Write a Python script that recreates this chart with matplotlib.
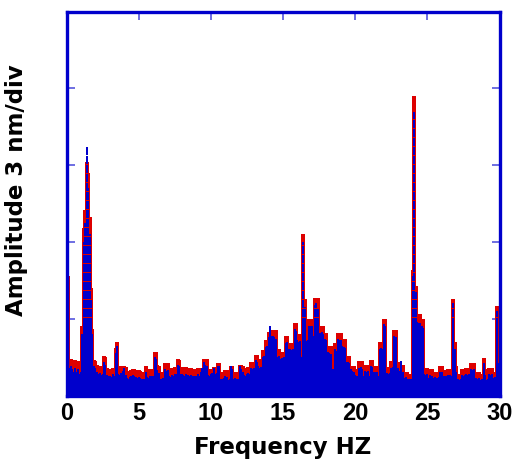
#!/usr/bin/env python3
# -*- coding: utf-8 -*-

import numpy as np
import matplotlib
matplotlib.use("Agg")
import matplotlib.pyplot as plt


# spectrum sampled every 0.1 Hz from 0 to 30 Hz (10 values per row = 1 Hz)
FREQ_STEP = 0.1

red_amp = [
    1.56, 1.56, 0.45, 0.47, 0.46, 0.40, 0.46, 0.39, 0.45, 0.38,   # 0
    0.40, 0.91, 2.18, 2.42, 3.04, 2.90, 2.32, 1.40, 0.87, 0.46,   # 1
    0.45, 0.40, 0.37, 0.36, 0.38, 0.37, 0.52, 0.50, 0.36, 0.34,   # 2
    0.35, 0.33, 0.36, 0.34, 0.62, 0.70, 0.38, 0.37, 0.39, 0.38,   # 3
    0.39, 0.37, 0.31, 0.30, 0.32, 0.33, 0.35, 0.34, 0.33, 0.31,   # 4
    0.33, 0.32, 0.30, 0.29, 0.31, 0.39, 0.33, 0.32, 0.35, 0.34,   # 5
    0.35, 0.57, 0.56, 0.40, 0.38, 0.30, 0.29, 0.31, 0.42, 0.41,   # 6
    0.42, 0.33, 0.32, 0.36, 0.35, 0.37, 0.36, 0.47, 0.46, 0.37,   # 7
    0.37, 0.36, 0.35, 0.37, 0.36, 0.34, 0.36, 0.35, 0.33, 0.33,   # 8
    0.34, 0.36, 0.33, 0.35, 0.36, 0.48, 0.47, 0.48, 0.35, 0.34,   # 9
    0.35, 0.35, 0.37, 0.36, 0.36, 0.42, 0.42, 0.30, 0.29, 0.30,   # 10
    0.33, 0.33, 0.28, 0.29, 0.39, 0.39, 0.30, 0.31, 0.29, 0.30,   # 11
    0.40, 0.40, 0.39, 0.35, 0.34, 0.36, 0.37, 0.36, 0.44, 0.44,   # 12
    0.44, 0.53, 0.53, 0.46, 0.47, 0.45, 0.59, 0.59, 0.72, 0.72,   # 13
    0.83, 0.83, 0.85, 0.85, 0.84, 0.85, 0.59, 0.60, 0.57, 0.57,   # 14
    0.55, 0.55, 0.78, 0.78, 0.68, 0.68, 0.68, 0.68, 0.95, 0.95,   # 15
    0.80, 0.80, 0.80, 0.58, 2.10, 1.26, 0.80, 0.80, 1.00, 1.00,   # 16
    1.00, 0.87, 1.27, 1.27, 1.27, 0.90, 0.90, 0.90, 0.90, 0.82,   # 17
    0.82, 0.64, 0.64, 0.64, 0.42, 0.42, 0.68, 0.68, 0.82, 0.82,   # 18
    0.82, 0.73, 0.73, 0.73, 0.52, 0.52, 0.52, 0.39, 0.39, 0.39,   # 19
    0.35, 0.33, 0.33, 0.45, 0.45, 0.45, 0.33, 0.40, 0.40, 0.40,   # 20
    0.33, 0.46, 0.46, 0.39, 0.39, 0.39, 0.33, 0.70, 0.70, 0.70,   # 21
    1.00, 1.00, 0.37, 0.37, 0.37, 0.45, 0.45, 0.85, 0.85, 0.44,   # 22
    0.44, 0.40, 0.40, 0.40, 0.31, 0.31, 0.31, 0.28, 0.28, 0.28,   # 23
    1.64, 3.90, 1.43, 1.06, 1.06, 1.06, 0.99, 0.99, 0.36, 0.36,   # 24
    0.36, 0.30, 0.35, 0.35, 0.31, 0.31, 0.30, 0.31, 0.31, 0.39,   # 25
    0.39, 0.33, 0.33, 0.33, 0.35, 0.35, 0.35, 0.35, 1.26, 0.70,   # 26
    0.38, 0.28, 0.28, 0.28, 0.35, 0.35, 0.35, 0.36, 0.36, 0.36,   # 27
    0.42, 0.42, 0.42, 0.30, 0.30, 0.30, 0.30, 0.28, 0.28, 0.49,   # 28
    0.35, 0.28, 0.28, 0.36, 0.36, 0.36, 0.31, 0.31, 1.16, 0.50,   # 29
    0.40,                                                         # 30
]

blue_amp = [
    0.45, 0.45, 0.36, 0.38, 0.35, 0.31, 0.36, 0.30, 0.34, 0.28,   # 0
    0.31, 0.80, 2.00, 2.25, 3.23, 2.70, 2.10, 1.25, 0.80, 0.38,   # 1
    0.36, 0.30, 0.28, 0.29, 0.27, 0.28, 0.44, 0.40, 0.27, 0.26,   # 2
    0.25, 0.24, 0.28, 0.26, 0.55, 0.64, 0.28, 0.27, 0.29, 0.32,   # 3
    0.36, 0.27, 0.23, 0.22, 0.24, 0.25, 0.27, 0.25, 0.24, 0.23,   # 4
    0.24, 0.23, 0.21, 0.22, 0.22, 0.30, 0.24, 0.23, 0.26, 0.25,   # 5
    0.26, 0.50, 0.48, 0.33, 0.29, 0.22, 0.21, 0.23, 0.34, 0.32,   # 6
    0.33, 0.25, 0.24, 0.27, 0.26, 0.28, 0.28, 0.40, 0.38, 0.28,   # 7
    0.28, 0.27, 0.26, 0.28, 0.27, 0.25, 0.27, 0.26, 0.25, 0.24,   # 8
    0.25, 0.28, 0.25, 0.30, 0.36, 0.43, 0.40, 0.38, 0.27, 0.26,   # 9
    0.28, 0.29, 0.36, 0.28, 0.29, 0.38, 0.38, 0.22, 0.21, 0.23,   # 10
    0.25, 0.24, 0.20, 0.22, 0.39, 0.34, 0.22, 0.23, 0.21, 0.22,   # 11
    0.39, 0.34, 0.31, 0.27, 0.26, 0.28, 0.29, 0.28, 0.36, 0.35,   # 12
    0.36, 0.46, 0.44, 0.38, 0.36, 0.37, 0.50, 0.51, 0.63, 0.64,   # 13
    0.76, 0.91, 0.78, 0.78, 0.76, 0.74, 0.50, 0.52, 0.48, 0.49,   # 14
    0.48, 0.50, 0.68, 0.70, 0.60, 0.61, 0.59, 0.60, 0.86, 0.84,   # 15
    0.72, 0.70, 0.71, 0.50, 2.00, 1.15, 0.71, 0.72, 0.91, 0.90,   # 16
    0.90, 0.78, 1.18, 1.20, 1.13, 0.82, 0.81, 0.83, 0.80, 0.73,   # 17
    0.72, 0.56, 0.55, 0.54, 0.34, 0.35, 0.60, 0.58, 0.73, 0.72,   # 18
    0.72, 0.64, 0.63, 0.62, 0.43, 0.44, 0.42, 0.34, 0.32, 0.31,   # 19
    0.27, 0.25, 0.26, 0.36, 0.37, 0.35, 0.25, 0.32, 0.31, 0.32,   # 20
    0.25, 0.38, 0.37, 0.31, 0.30, 0.31, 0.25, 0.60, 0.62, 0.61,   # 21
    0.93, 0.90, 0.29, 0.28, 0.29, 0.36, 0.37, 0.78, 0.76, 0.36,   # 22
    0.36, 0.32, 0.45, 0.31, 0.23, 0.24, 0.22, 0.21, 0.20, 0.22,   # 23
    1.55, 3.69, 1.35, 0.96, 0.95, 0.94, 0.90, 0.88, 0.28, 0.27,   # 24
    0.28, 0.23, 0.27, 0.26, 0.23, 0.24, 0.22, 0.23, 0.24, 0.31,   # 25
    0.31, 0.25, 0.26, 0.25, 0.27, 0.26, 0.27, 0.26, 1.21, 0.60,   # 26
    0.30, 0.21, 0.20, 0.21, 0.27, 0.26, 0.27, 0.28, 0.27, 0.28,   # 27
    0.34, 0.33, 0.34, 0.22, 0.23, 0.22, 0.23, 0.20, 0.21, 0.42,   # 28
    0.27, 0.20, 0.21, 0.28, 0.27, 0.28, 0.23, 0.24, 1.10, 0.42,   # 29
    0.33,                                                         # 30
]

x_ticks = [0, 5, 10, 15, 20, 25, 30]
y_ticks = [1, 2, 3, 4]

RED = "#dd0000"
BLUE = "#0000cc"
TICK_BLUE = "#5555dd"
SOLID_UP_TO = 0.95  # blue stems are solid up to here, dashed above (as in the reference)


def main():
    freq = np.arange(len(red_amp)) * FREQ_STEP
    blue = np.array(blue_amp)
    blue_low = np.minimum(blue, SOLID_UP_TO)
    tall = blue > SOLID_UP_TO

    fig = plt.figure(figsize=(5.18, 4.64), dpi=100)
    ax = fig.add_axes([66.5 / 518, 1 - 396.5 / 464, 433 / 518, 384 / 464])

    # no antialiasing: keeps the red/blue stems crisp instead of blending to purple
    ax.vlines(freq, 0, red_amp, color=RED, lw=2.6, antialiased=False, zorder=2)
    ax.vlines(freq, 0, blue_low, color=BLUE, lw=1.1, antialiased=False, zorder=3)
    # dashed part overlaps the solid part a little so no seam shows
    ax.vlines(freq[tall], SOLID_UP_TO - 0.04, blue[tall], color=BLUE, lw=1.1,
              linestyles=[(0, (5, 1))], antialiased=False, zorder=3)

    ax.set_xlim(0, 30)
    ax.set_ylim(0, 5)

    ax.set_xticks(x_ticks)
    ax.set_xticklabels([str(t) for t in x_ticks], family="Liberation Sans",
                       fontweight="bold", fontsize=17)
    ax.set_yticks(y_ticks)
    ax.set_yticklabels([])
    ax.tick_params(axis="both", direction="in", length=5.5, width=1.2,
                   color=TICK_BLUE, top=True, right=True, pad=4)

    for sp in ax.spines.values():
        sp.set_color(BLUE)
        sp.set_linewidth(2.4)
        sp.set_zorder(5)

    ax.set_xlabel("Frequency HZ", family="DejaVu Sans", fontweight="bold",
                  fontsize=16.5, labelpad=8)
    ax.set_ylabel("Amplitude 3 nm/div", family="DejaVu Sans", fontweight="bold",
                  fontsize=16.5)
    ax.yaxis.set_label_coords(-0.09, 0.538)

    fig.savefig("out.png", dpi=100)
    plt.close(fig)


if __name__ == "__main__":
    main()
